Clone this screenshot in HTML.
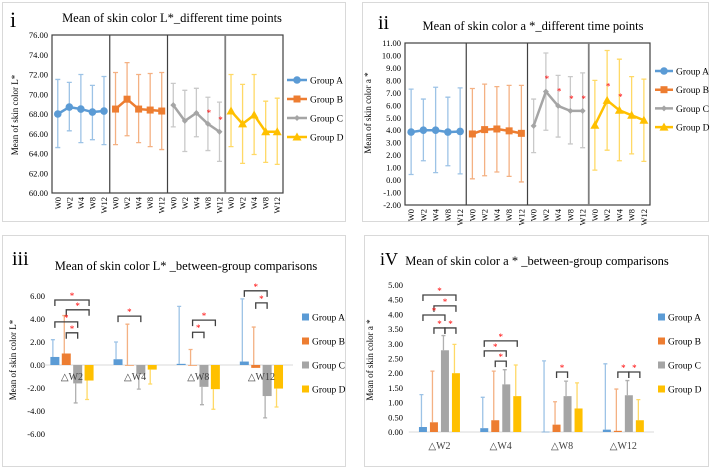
<!DOCTYPE html>
<html><head><meta charset="utf-8"><style>
html,body{margin:0;padding:0;background:#fff;}
svg{display:block;font-family:"Liberation Serif",serif;}
</style></head><body>
<svg id="fig" width="711" height="469" viewBox="0 0 711 469" xmlns="http://www.w3.org/2000/svg">
<rect x="2.5" y="2.5" width="343" height="219" fill="#fff" stroke="#d9d9d9"/>
<rect x="362.5" y="2.5" width="346" height="219" fill="#fff" stroke="#d9d9d9"/>
<rect x="2.5" y="235.5" width="343" height="231" fill="#fff" stroke="#d9d9d9"/>
<rect x="364.5" y="235.5" width="344" height="231" fill="#fff" stroke="#d9d9d9"/>
<text x="10" y="27" font-size="22">i</text>
<text x="172" y="22" font-size="12.5" text-anchor="middle">Mean of skin color L*_different time points</text>
<text x="378" y="29" font-size="20">ii</text>
<text x="533" y="30" font-size="12.5" text-anchor="middle">Mean of skin color a *_different time points</text>
<text x="12" y="265" font-size="20">iii</text>
<text x="186" y="270" font-size="12.5" text-anchor="middle">Mean of skin color L* _between-group comparisons</text>
<text x="380" y="265" font-size="18">iV</text>
<text x="537" y="265" font-size="12.5" text-anchor="middle">Mean of skin color a * _between-group comparisons</text>
<text transform="translate(18,115) rotate(-90)" font-size="9" text-anchor="middle">Mean of skin color L*</text>
<text transform="translate(371,113) rotate(-90)" font-size="9" text-anchor="middle">Mean of skin color a *</text>
<text transform="translate(16,360) rotate(-90)" font-size="9" text-anchor="middle">Mean of skin color L*</text>
<text transform="translate(373,360) rotate(-90)" font-size="9" text-anchor="middle">Mean of skin color a *</text>
</svg>
<script>
// ---------- data ----------
var groups = ["Group A","Group B","Group C","Group D"];
var times = ["W0","W2","W4","W8","W12"];
var deltas = ["△W2","△W4","△W8","△W12"];
var iTicks = [60,62,64,66,68,70,72,74,76];
var iMeanA = [68.0,68.7,68.5,68.2,68.3];
var iMeanB = [68.5,69.5,68.5,68.4,68.3];
var iMeanC = [68.9,67.3,68.1,67.0,66.2];
var iMeanD = [68.3,67.0,67.9,66.2,66.2];
var iUpA = [71.5,71.2,72.0,70.9,71.8], iLoA = [64.6,66.3,65.1,65.4,64.9];
var iUpB = [72.2,73.2,72.0,72.1,72.2], iLoB = [64.9,65.8,65.1,64.7,64.4];
var iUpC = [71.1,70.4,70.6,69.7,69.2], iLoC = [66.7,64.2,65.7,64.3,63.2];
var iUpD = [72.0,71.0,72.0,69.3,69.6], iLoD = [64.7,63.0,63.9,63.1,62.9];
var iStarsC = [null,null,null,68.1,67.4];
var iStarsD = [null,null,null,null,null];
var iiTicks = [-2,-1,0,1,2,3,4,5,6,7,8,9,10,11];
var iiMeanA = [3.85,4.0,4.0,3.85,3.9];
var iiMeanB = [3.7,4.05,4.1,3.95,3.75];
var iiMeanC = [4.35,7.1,5.95,5.55,5.55];
var iiMeanD = [4.4,6.4,5.6,5.2,4.8];
var iiUpA = [7.3,6.5,7.45,6.65,7.4], iiLoA = [0.45,1.55,0.6,1.15,0.5];
var iiUpB = [7.35,7.7,7.5,7.6,7.6], iiLoB = [0.1,0.35,0.65,0.3,-0.15];
var iiUpC = [6.5,10.2,8.4,8.3,8.6], iiLoC = [2.2,4.0,3.45,2.9,2.6];
var iiUpD = [8.0,10.4,9.7,8.3,8.1], iiLoD = [0.8,2.4,1.55,2.1,1.5];
var iiStarsC = [null,8.1,7.1,6.5,6.5];
var iiStarsD = [null,7.5,6.65,null,null];
var iiiTicks = [-6,-4,-2,0,2,4,6];
var iiiA = [0.7,0.5,0.1,0.3], iiiErrA = [2.2,2.0,5.1,5.75];
var iiiB = [1.0,0.0,-0.05,-0.25], iiiErrB = [4.3,3.55,1.35,3.3];
var iiiC = [-1.6,-0.8,-1.9,-2.7], iiiErrC = [-3.3,-2.1,-3.45,-4.6];
var iiiD = [-1.35,-0.4,-2.1,-2.05], iiiErrD = [-3.0,-1.65,-3.85,-3.65];
var iiiBrCat = [0,0,0,0,1,2,2,3,3];
var iiiBrFrom = [0,1,0,1,0,1,1,0,1];
var iiiBrTo = [3,3,2,2,2,2,3,2,2];
var iiiBrLevel = [5.65,4.8,3.75,2.8,4.25,2.85,3.9,6.45,5.4];
var ivTicks = [0,0.5,1,1.5,2,2.5,3,3.5,4,4.5,5];
var ivA = [0.17,0.13,0.01,0.08], ivErrA = [1.27,1.18,2.42,2.32];
var ivB = [0.33,0.4,0.25,0.04], ivErrB = [2.07,2.07,1.03,1.46];
var ivC = [2.78,1.62,1.22,1.25], ivErrC = [3.28,2.12,1.73,1.75];
var ivD = [2.0,1.22,0.8,0.4], ivErrD = [2.98,2.28,1.67,1.1];
var ivBrCat = [0,0,0,0,0,1,1,1,2,3,3];
var ivBrFrom = [0,1,0,1,2,0,0,1,1,1,2];
var ivBrTo = [3,3,2,2,3,3,2,2,2,2,3];
var ivBrLevel = [4.66,4.29,3.98,3.54,3.54,3.1,2.76,2.41,2.04,2.04,2.04];

// ---------- helpers ----------
var NS = "http://www.w3.org/2000/svg";
var svg = document.getElementById("fig");
var COL = ["#5b9bd5","#ed7d31","#a5a5a5","#ffc000"];
var ECOL = ["#9dc3e6","#f4b183","#c9c9c9","#ffd966"];
function mk(tag, at, parent){
  var e = document.createElementNS(NS, tag);
  for (var k in at) e.setAttribute(k, at[k]);
  (parent || svg).appendChild(e);
  return e;
}
function fmt(v){ return v.toFixed(2); }
function star(x, y, name){
  var t = mk("text", {x:x, y:y+3, "font-size":9, fill:"#ff0000", "text-anchor":"middle"});
  t.textContent = "*";
  
  
}
function legendLine(x, y0, dy, lw, markerFn){
  for (var g=0; g<4; g++){
    var y = y0 + g*dy;
    var l = mk("line", {x1:x, y1:y, x2:x+lw, y2:y, stroke:COL[g], "stroke-width":2.5});
    
    
    markerFn(g, x+lw/2, y, 'legend-marker-' + g);
    var t = mk("text", {x:x+lw+3, y:y+3.5, "font-size":9.5});
    t.textContent = groups[g];
    
    
  }
}
function marker(g, x, y, name){
  var e;
  if (g==0) e = mk("circle", {cx:x, cy:y, r:3.8, fill:COL[0]});
  else if (g==1) e = mk("rect", {x:x-3.5, y:y-3.5, width:7, height:7, fill:COL[1]});
  else if (g==2) e = mk("polygon", {points:(x)+","+(y-3)+" "+(x+3)+","+y+" "+x+","+(y+3)+" "+(x-3)+","+y, fill:COL[2]});
  else e = mk("polygon", {points:x+","+(y-4.5)+" "+(x+4.5)+","+(y+3.5)+" "+(x-4.5)+","+(y+3.5), fill:COL[3]});
  
  
}
function legendSq(x, y0, dy){
  for (var g=0; g<4; g++){
    var y = y0 + g*dy;
    var r = mk("rect", {x:x, y:y-3.5, width:7, height:7, fill:COL[g]});
    
    
    var t = mk("text", {x:x+10, y:y+3.5, "font-size":9.5});
    t.textContent = groups[g];
    
    
  }
}

// ---------- line panels ----------
function linePanel(p){
  var y = function(v){ return p.y0 - (v - p.vmin) * p.h / (p.vmax - p.vmin); };
  var secW = p.w / 4, pitch = secW / 5;
  var x = function(g, i){ return p.x0 + g*secW + pitch/2 + i*pitch; };
  p.ticks.forEach(function(tv){
    var t = mk("text", {x:p.x0-4, y:y(tv)+3, "font-size":8.5, "text-anchor":"end"});
    t.textContent = fmt(tv);
    
    
  });
  for (var g=0; g<4; g++){
    var mean = p.means[g], up = p.ups[g], lo = p.los[g];
    for (var i=0; i<5; i++){
      var xx = x(g,i);
      var e = mk("path", {d:"M"+xx+" "+y(lo[i])+"V"+y(up[i])+"M"+(xx-2.5)+" "+y(lo[i])+"h5M"+(xx-2.5)+" "+y(up[i])+"h5", stroke:ECOL[g], "stroke-width":1.3, fill:"none"});
      
      
      var lb = mk("text", {transform:"translate("+(xx+3)+","+(p.y0+4)+") rotate(-90)", "font-size":8.5, "text-anchor":"end"});
      lb.textContent = times[i];
      
      
    }
    var d = "";
    for (var i=0; i<5; i++) d += (i?"L":"M") + x(g,i) + " " + y(mean[i]);
    var ln = mk("path", {d:d, stroke:COL[g], "stroke-width":2.5, fill:"none"});
    
    
    for (var i=0; i<5; i++) marker(g, x(g,i), y(mean[i]), p.id + '-point');
  }
  p.stars.forEach(function(arr, k){
    var g = p.starGroups[k];
    arr.forEach(function(v, i){ if (v != null) star(x(g,i)+1, y(v), p.id + '-sig-star'); });
  });
  var fr = mk("rect", {x:p.x0, y:y(p.vmax), width:p.w, height:p.h, fill:"none", stroke:"#404040", "stroke-width":1.2});
  
  
  for (var g=1; g<4; g++){
    var dl = mk("line", {x1:p.x0+g*secW, x2:p.x0+g*secW, y1:y(p.vmax), y2:p.y0, stroke: g==3?"#7f7f7f":"#404040", "stroke-width": g==3?1.8:1.2});
    
    
  }
}
linePanel({id:"panel-i", x0:52, w:231, y0:193, h:158, vmin:60, vmax:76, ticks:iTicks,
  means:[iMeanA,iMeanB,iMeanC,iMeanD], ups:[iUpA,iUpB,iUpC,iUpD], los:[iLoA,iLoB,iLoC,iLoD],
  stars:[iStarsC,iStarsD], starGroups:[2,3]});
legendLine(287, 80, 19, 20, marker);
linePanel({id:"panel-ii", x0:405, w:245, y0:205, h:162, vmin:-2, vmax:11, ticks:iiTicks,
  means:[iiMeanA,iiMeanB,iiMeanC,iiMeanD], ups:[iiUpA,iiUpB,iiUpC,iiUpD], los:[iiLoA,iiLoB,iiLoC,iiLoD],
  stars:[iiStarsC,iiStarsD], starGroups:[2,3]});
legendLine(655, 71, 18.7, 18, marker);

// ---------- bar panels ----------
function barPanel(p){
  var y = function(v){ return p.zero - v * p.scale; };
  var catW = p.w / 4;
  var cx = function(c){ return p.x0 + catW*(c+0.5); };
  var bx = function(c, g){ return cx(c) + (g-1.5)*p.pitch; };
  p.ticks.forEach(function(tv){
    var t = mk("text", {x:p.labelX, y:y(tv)+3, "font-size":8.5, "text-anchor":"end"});
    t.textContent = fmt(tv);
    
    
  });
  var zl = mk("line", {x1:p.x0, x2:p.x0+p.w, y1:y(0), y2:y(0), stroke:"#d9d9d9", "stroke-width":1});
  
  
  for (var g=0; g<4; g++){
    for (var c=0; c<4; c++){
      var v = p.vals[g][c], er = p.errs[g][c];
      var xx = bx(c,g);
      var top = Math.min(y(v), y(0)), hh = Math.max(Math.abs(y(v)-y(0)), 0.6);
      var ex = xx - p.bw/2 + 2.5;
      var e = mk("path", {d:"M"+ex+" "+y(v)+"V"+y(er)+"M"+(ex-2)+" "+y(er)+"h4", stroke:ECOL[g]=="#c9c9c9"?"#b0b0b0":ECOL[g], "stroke-width":1.3, fill:"none"});
      
      
      var r = mk("rect", {x:xx-p.bw/2, y:top, width:p.bw, height:hh, fill:COL[g]});
      
      
    }
  }
  for (var c=0; c<4; c++){
    var t = mk("text", {x:cx(c), y:p.catY, "font-size":10, "text-anchor":"middle", fill:"#404040"});
    t.textContent = deltas[c];
    
    
  }
  for (var k=0; k<p.brCat.length; k++){
    var x1 = bx(p.brCat[k], p.brFrom[k]), x2 = bx(p.brCat[k], p.brTo[k]), yy = y(p.brLevel[k]);
    var b = mk("path", {d:"M"+x1+" "+(yy+6)+"V"+yy+"H"+x2+"V"+(yy+6), stroke:"#404040", "stroke-width":1.3, fill:"none"});
    
    
    star((x1+x2)/2, yy-4, p.id + '-sig-star');
  }
}
barPanel({id:"panel-iii", x0:40.4, w:252.6, zero:365, scale:11.5, pitch:11.4, bw:9, labelX:45, catY:380, ticks:iiiTicks,
  vals:[iiiA,iiiB,iiiC,iiiD], errs:[iiiErrA,iiiErrB,iiiErrC,iiiErrD],
  brCat:iiiBrCat, brFrom:iiiBrFrom, brTo:iiiBrTo, brLevel:iiiBrLevel});
legendSq(302, 317, 24);
barPanel({id:"panel-iv", x0:408.8, w:245.2, zero:432, scale:29.4, pitch:11, bw:8, labelX:403, catY:449, ticks:ivTicks,
  vals:[ivA,ivB,ivC,ivD], errs:[ivErrA,ivErrB,ivErrC,ivErrD],
  brCat:ivBrCat, brFrom:ivBrFrom, brTo:ivBrTo, brLevel:ivBrLevel});
legendSq(658, 317, 24);
</script>
</body></html>
